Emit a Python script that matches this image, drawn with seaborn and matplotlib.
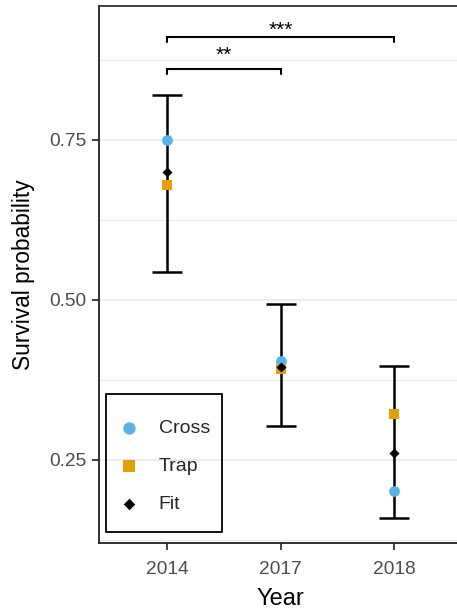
import matplotlib
matplotlib.use("Agg")
import matplotlib.pyplot as plt
import seaborn as sns
import pandas as pd
import numpy as np
from matplotlib.ticker import FixedLocator
from matplotlib.patches import Rectangle

years = ["2014", "2017", "2018"]
cross = [0.75, 0.404, 0.202]
trap = [0.680, 0.392, 0.322]
fit = [0.700, 0.395, 0.261]
ci_low = [0.544, 0.303, 0.159]
ci_high = [0.820, 0.494, 0.397]
# (from, to, label, bracket height, label baseline)
brackets = [("2014", "2017", "**", 0.861, 0.873), ("2014", "2018", "***", 0.911, 0.9125)]

sns.set_theme(style="white")
plt.rcParams["font.family"] = ["Liberation Sans", "DejaVu Sans"]

fig = plt.figure(figsize=(4.57, 6.10), dpi=100)
ax = fig.add_axes([99 / 457, 67 / 610, 363 / 457, 537 / 610])

xpos = {y: i for i, y in enumerate(years)}
xs = np.arange(len(years))

# error bars
ax.errorbar(xs, fit, yerr=[np.array(fit) - np.array(ci_low), np.array(ci_high) - np.array(fit)],
            fmt="none", ecolor="black", elinewidth=1.8, capsize=11, capthick=1.8, zorder=2)

df = pd.DataFrame({
    "Year": years * 3,
    "value": cross + trap + fit,
    "kind": ["Cross"] * 3 + ["Trap"] * 3 + ["Fit"] * 3,
})
df["x"] = df["Year"].map(xpos)

palette = {"Cross": "#56B4E9", "Trap": "#E69F00", "Fit": "black"}
markers = {"Cross": "o", "Trap": "s", "Fit": "D"}
sizes = {"Cross": 60, "Trap": 62, "Fit": 26}
for k in ["Cross", "Trap", "Fit"]:
    sub = df[df["kind"] == k]
    sns.scatterplot(data=sub, x="x", y="value", color=palette[k], marker=markers[k],
                    s=sizes[k], linewidth=0, ax=ax, zorder=3, label=k)

# significance brackets
for a, b, lab, h, ty in brackets:
    x1, x2 = xpos[a], xpos[b]
    ax.plot([x1, x1, x2, x2], [h - 0.009, h, h, h - 0.009], color="black", lw=1.5,
            solid_joinstyle="miter", zorder=3)
    ax.text((x1 + x2) / 2, ty, lab, ha="center", va="baseline", fontsize=15, color="black")

ax.set_xlim(-0.6, 2.6)
ax.set_ylim(0.12, 0.959)
ax.set_xticks(xs)
ax.set_xticklabels(years)
ax.yaxis.set_major_locator(FixedLocator([0.25, 0.5, 0.75]))
ax.set_yticklabels(["0.25", "0.50", "0.75"])
ax.yaxis.set_minor_locator(FixedLocator([0.125, 0.375, 0.625, 0.875]))

ax.grid(False)
ax.grid(axis="y", which="major", color="#EBEBEB", lw=1.3, zorder=0)
ax.grid(axis="y", which="minor", color="#EBEBEB", lw=0.8, zorder=0)
ax.set_axisbelow(True)

for s in ["left", "bottom", "top"]:
    ax.spines[s].set_visible(True)
    ax.spines[s].set_color("#333333")
    ax.spines[s].set_linewidth(1.3)
ax.spines["right"].set_visible(False)
ax.spines["left"].set_color("#222222")
ax.spines["bottom"].set_color("#222222")

ax.tick_params(axis="both", which="major", length=5, width=1.3, color="#333333",
               labelsize=13.8, labelcolor="#4D4D4D", left=True, bottom=True)
ax.tick_params(axis="x", which="major", pad=8)
ax.tick_params(axis="y", which="major", pad=4)
ax.tick_params(axis="y", which="minor", length=0)

ax.set_xlabel("Year", fontsize=17, color="black", labelpad=7.5)
ax.set_ylabel("Survival probability", fontsize=16.4, color="black", labelpad=10)

# legend: entries without frame, frame drawn as rectangle in axes coords
leg = ax.legend(loc="upper left", bbox_to_anchor=(7 / 363, 133 / 537),
                frameon=False, fontsize=14, handletextpad=0.84, labelspacing=1.05,
                borderpad=0.5, borderaxespad=0, handlelength=1.37, markerscale=1.15)
ax.add_patch(Rectangle((7 / 363, 11 / 537), 116 / 363, 138 / 537, transform=ax.transAxes,
                       facecolor="none", edgecolor="black", lw=1.3, zorder=4))

fig.savefig("out.png", dpi=100)
